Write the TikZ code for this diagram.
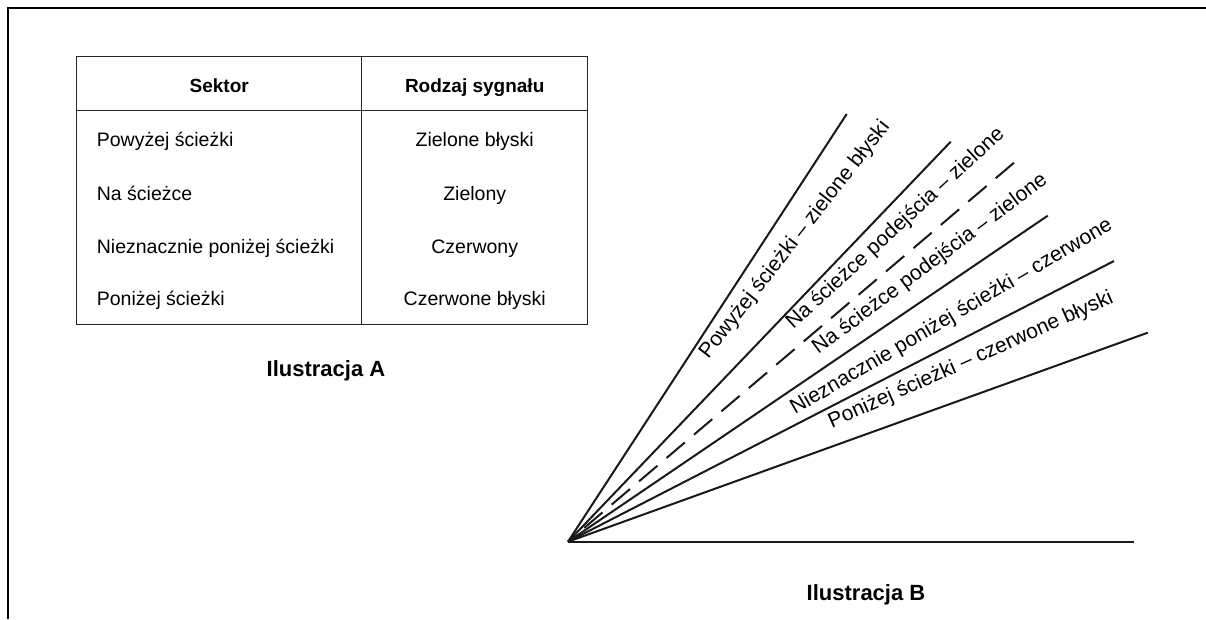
\documentclass[tikz,border=0pt]{standalone}
\usepackage{fontspec}
\setmainfont{Liberation Sans}
\begin{document}
\begin{tikzpicture}[x=1pt,y=-1pt,
  tbl/.style={line width=1.5pt, draw=black!85},
  frame/.style={line width=2pt, draw=black},
  ray/.style={line width=2pt, draw=black!90},
  cell/.style={inner sep=0pt, font=\fontsize{19.5}{23}\selectfont},
  head/.style={inner sep=0pt, font=\fontsize{19}{23}\selectfont\bfseries},
  caption/.style={inner sep=0pt, font=\fontsize{22}{26}\selectfont\bfseries},
  lbl/.style={inner sep=0pt, anchor=base west, font=\fontsize{21}{24}\selectfont}]
\useasboundingbox (0,0) rectangle (1206,619);
% frame
\draw[frame] (7.5,619) -- (7.5,7.5) -- (1206,7.5);
% table
\draw[tbl] (76.7,56.7) rectangle (587.7,324.3);
\draw[tbl] (76.7,110.7) -- (587.7,110.7);
\draw[tbl] (361.7,56.7) -- (361.7,324.3);
\node[head, anchor=base] (h1) at (219.2,92.3) {Sektor};
\node[head, anchor=base] (h2) at (474.7,92.3) {Rodzaj sygnału};
\node[cell, anchor=base west] (a1) at (96.7,146.7) {Powyżej ścieżki};
\node[cell, anchor=base west] (a2) at (96.7,200) {Na ścieżce};
\node[cell, anchor=base west] (a3) at (96.7,253.3) {Nieznacznie poniżej ścieżki};
\node[cell, anchor=base west] (a4) at (96.7,305) {Poniżej ścieżki};
\node[cell, anchor=base] (b1) at (474.7,146.7) {Zielone błyski};
\node[cell, anchor=base] (b2) at (474.7,200) {Zielony};
\node[cell, anchor=base] (b3) at (474.7,253.3) {Czerwony};
\node[cell, anchor=base] (b4) at (474.7,305) {Czerwone błyski};
\node[caption, anchor=base] (capA) at (326,376.7) {Ilustracja A};
% fan
\coordinate (O) at (568,541.7);
\coordinate (e1) at (846.7,114);
\coordinate (e2) at (950.7,141.7);
\coordinate (ed) at (1014,162.7);
\coordinate (e3) at (1047.7,215.7);
\coordinate (e4) at (1114,261);
\coordinate (e5) at (1147.7,332.7);
\coordinate (eh) at (1134,541.7);
\draw[ray] (O) -- (e1);
\draw[ray] (O) -- (e2);
\draw[ray, dash pattern=on 24pt off 12pt] (ed) -- (O);
\draw[ray] (O) -- (e3);
\draw[ray] (O) -- (e4);
\draw[ray] (O) -- (e5);
\draw[ray] (O) -- (eh);
\node[lbl, rotate=52] (t1) at (708.3,360) {Powyżej ścieżki – zielone błyski};
\node[lbl, rotate=42.5] (t2) at (793.3,330) {Na ścieżce podejścia – zielone};
\node[lbl, rotate=36.8] (t3) at (818.3,355) {Na ścieżce podejścia – zielone};
\node[lbl, rotate=30.3] (t4) at (795,415) {Nieznacznie poniżej ścieżki – czerwone};
\node[lbl, rotate=24] (t5) at (831.7,428.3) {Poniżej ścieżki – czerwone błyski};
\node[caption, anchor=base] (capB) at (866,600.7) {Ilustracja B};
\end{tikzpicture}
\end{document}
